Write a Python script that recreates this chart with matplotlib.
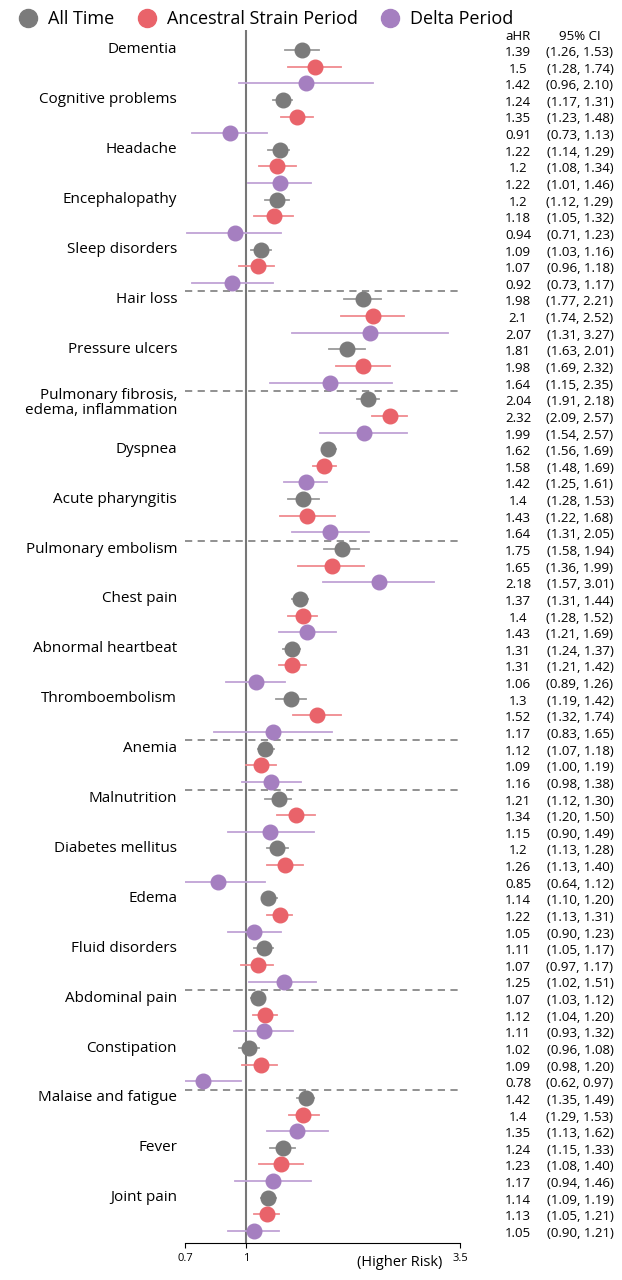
import numpy as np
import matplotlib
matplotlib.use("Agg")
import matplotlib.pyplot as plt
import matplotlib.transforms as mtransforms
from matplotlib.lines import Line2D

plt.rcParams['font.family'] = ['Open Sans', 'DejaVu Sans']

conditions = ["Dementia", "Cognitive problems", "Headache", "Encephalopathy", "Sleep disorders",
              "Hair loss", "Pressure ulcers", "Pulmonary fibrosis,\nedema, inflammation", "Dyspnea",
              "Acute pharyngitis", "Pulmonary embolism", "Chest pain", "Abnormal heartbeat",
              "Thromboembolism", "Anemia", "Malnutrition", "Diabetes mellitus", "Edema",
              "Fluid disorders", "Abdominal pain", "Constipation", "Malaise and fatigue",
              "Fever", "Joint pain"]
# groups that start a new section (dashed line drawn above them)
section_starts = ["Hair loss", "Pulmonary fibrosis,\nedema, inflammation", "Pulmonary embolism",
                  "Anemia", "Malnutrition", "Abdominal pain", "Malaise and fatigue"]

# rows per condition: All Time, Ancestral Strain, Delta
ahr = [1.39, 1.5, 1.42, 1.24, 1.35, 0.91, 1.22, 1.2, 1.22, 1.2, 1.18, 0.94, 1.09, 1.07, 0.92,
       1.98, 2.1, 2.07, 1.81, 1.98, 1.64, 2.04, 2.32, 1.99, 1.62, 1.58, 1.42, 1.4, 1.43, 1.64,
       1.75, 1.65, 2.18, 1.37, 1.4, 1.43, 1.31, 1.31, 1.06, 1.3, 1.52, 1.17, 1.12, 1.09, 1.16,
       1.21, 1.34, 1.15, 1.2, 1.26, 0.85, 1.14, 1.22, 1.05, 1.11, 1.07, 1.25, 1.07, 1.12, 1.11,
       1.02, 1.09, 0.78, 1.42, 1.4, 1.35, 1.24, 1.23, 1.17, 1.14, 1.13, 1.05]
lo = [1.26, 1.28, 0.96, 1.17, 1.23, 0.73, 1.14, 1.08, 1.01, 1.12, 1.05, 0.71, 1.03, 0.96, 0.73,
      1.77, 1.74, 1.31, 1.63, 1.69, 1.15, 1.91, 2.09, 1.54, 1.56, 1.48, 1.25, 1.28, 1.22, 1.31,
      1.58, 1.36, 1.57, 1.31, 1.28, 1.21, 1.24, 1.21, 0.89, 1.19, 1.32, 0.83, 1.07, 1.00, 0.98,
      1.12, 1.20, 0.90, 1.13, 1.13, 0.64, 1.10, 1.13, 0.90, 1.05, 0.97, 1.02, 1.03, 1.04, 0.93,
      0.96, 0.98, 0.62, 1.35, 1.29, 1.13, 1.15, 1.08, 0.94, 1.09, 1.05, 0.90]
hi = [1.53, 1.74, 2.10, 1.31, 1.48, 1.13, 1.29, 1.34, 1.46, 1.29, 1.32, 1.23, 1.16, 1.18, 1.17,
      2.21, 2.52, 3.27, 2.01, 2.32, 2.35, 2.18, 2.57, 2.57, 1.69, 1.69, 1.61, 1.53, 1.68, 2.05,
      1.94, 1.99, 3.01, 1.44, 1.52, 1.69, 1.37, 1.42, 1.26, 1.42, 1.74, 1.65, 1.18, 1.19, 1.38,
      1.30, 1.50, 1.49, 1.28, 1.40, 1.12, 1.20, 1.31, 1.23, 1.17, 1.17, 1.51, 1.12, 1.20, 1.32,
      1.08, 1.20, 0.97, 1.49, 1.53, 1.62, 1.33, 1.40, 1.46, 1.19, 1.21, 1.21]

periods = ["All Time", "Ancestral Strain Period", "Delta Period"]
colors = ["#7b7b7b", "#e9636a", "#a57fc0"]
line_colors = ["#9a9a9a", "#f08a8f", "#c0a3d6"]

fig = plt.figure(figsize=(6.22, 12.8), dpi=100)
ax = fig.add_axes([185 / 622, 37 / 1280, 275 / 622, 1213 / 1280])
ax.set_xscale("log")
ax.set_xlim(0.7, 3.5)
ax.set_ylim(71.72, -1.2)

for i, (m, l, h) in enumerate(zip(ahr, lo, hi)):
    k = i % 3
    ax.plot([l, h], [i, i], color=line_colors[k], lw=1.3, zorder=2)
    ax.plot(m, i, "o", color=colors[k], ms=10.5, zorder=3)

ax.axvline(1, color="#777777", lw=1.5, zorder=1)

for g, name in enumerate(conditions):
    if name in section_starts:
        ax.axhline(3 * g - 0.5, color="#888888", lw=1.3, ls=(0, (4, 3)), zorder=1)

for s in ["top", "right", "left"]:
    ax.spines[s].set_visible(False)
ax.set_yticks([])
ax.set_xticks([0.7, 1, 3.5])
ax.set_xticklabels(["0.7", "1", "3.5"], fontsize=8)
ax.xaxis.set_minor_locator(matplotlib.ticker.NullLocator())

tr = mtransforms.blended_transform_factory(fig.transFigure, ax.transData)
for g, name in enumerate(conditions):
    ax.text(177 / 622, 3 * g + (0.25 if "\n" in name else 0), name, transform=tr,
            ha="right", va="center", fontsize=11, linespacing=1.0)

ax.text(518 / 622, -0.8, "aHR", transform=tr, ha="center", va="center", fontsize=9.5)
ax.text(580 / 622, -0.8, "95% CI", transform=tr, ha="center", va="center", fontsize=9.5)
for i, (m, l, h) in enumerate(zip(ahr, lo, hi)):
    ax.text(518 / 622, i + 0.15, str(m), transform=tr, ha="center", va="center", fontsize=9.5)
    ax.text(580 / 622, i + 0.15, f"({l:.2f}, {h:.2f})", transform=tr, ha="center",
            va="center", fontsize=9.5)

fig.text(400 / 622, 1 - 1262 / 1280, "(Higher Risk)", ha="center", va="center", fontsize=10.5)

handles = [Line2D([], [], marker="o", ls="", color=c, ms=13) for c in colors]
fig.legend(handles, periods, loc="upper left", bbox_to_anchor=(-0.01, 1.005), ncol=3,
           frameon=False, fontsize=13, handletextpad=0.1, columnspacing=0.8)

fig.savefig("out.png", dpi=100)
